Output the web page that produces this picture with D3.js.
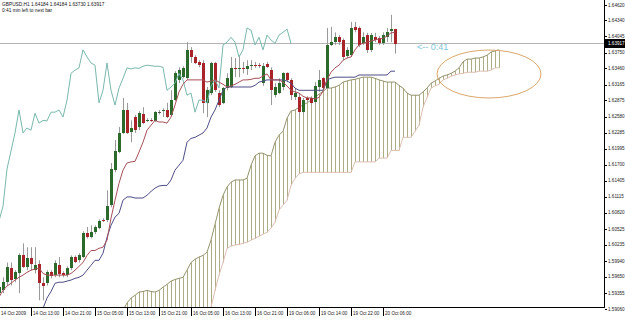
<!DOCTYPE html>
<html>
<head>
<meta charset="utf-8">
<script src="https://cdn.jsdelivr.net/npm/d3@7"></script>
<style>
  html, body { margin: 0; padding: 0; background: #fff; }
  svg { display: block; }
  text { font-family: "Liberation Sans", Arial, sans-serif; }
</style>
</head>
<body>
<script>
// GBPUSD H1 candles, one entry per hourly bar (oldest first)
const opens = [
  1.5935, 1.5940, 1.5955, 1.5981, 1.5960, 1.5971, 1.6004, 1.5982, 1.5999, 1.5977,
  1.5988, 1.5953, 1.5953, 1.5973, 1.5968, 1.5986, 1.5971, 1.5968, 1.5981, 1.6002,
  1.5995, 1.6001, 1.6045, 1.6037, 1.6046, 1.6054, 1.6069, 1.6069, 1.6096, 1.6160,
  1.6193, 1.6228, 1.6270, 1.6229, 1.6257, 1.6239, 1.6262, 1.6250, 1.6251, 1.6250,
  1.6266, 1.6268, 1.6270, 1.6261, 1.6288, 1.6325, 1.6330, 1.6328, 1.6380, 1.6367,
  1.6358, 1.6356, 1.6283, 1.6301, 1.6356, 1.6301, 1.6283, 1.6310, 1.6312, 1.6347,
  1.6345, 1.6347, 1.6345, 1.6350, 1.6352, 1.6352, 1.6319, 1.6354, 1.6343, 1.6297,
  1.6301, 1.6312, 1.6337, 1.6325, 1.6293, 1.6293, 1.6266, 1.6292, 1.6292, 1.6284,
  1.6312, 1.6328, 1.6310, 1.6389, 1.6394, 1.6403, 1.6398, 1.6369, 1.6370, 1.6422,
  1.6420, 1.6392, 1.6407, 1.6380, 1.6403, 1.6401, 1.6392, 1.6403, 1.6414, 1.64184
];
const highs = [
  1.5949, 1.5964, 1.5991, 1.5991, 1.5977, 1.6008, 1.6026, 1.6019, 1.6019, 1.6019,
  1.5995, 1.5964, 1.5977, 1.5977, 1.5995, 1.6001, 1.5975, 1.5984, 1.6004, 1.6004,
  1.6008, 1.6048, 1.6056, 1.6059, 1.6059, 1.6070, 1.6072, 1.6123, 1.6173, 1.6215,
  1.6239, 1.6292, 1.6283, 1.6251, 1.6261, 1.6268, 1.6275, 1.6255, 1.6255, 1.6268,
  1.6270, 1.6273, 1.6283, 1.6306, 1.6341, 1.6348, 1.6350, 1.6394, 1.6385, 1.6370,
  1.6361, 1.6361, 1.6312, 1.6358, 1.6358, 1.6306, 1.6312, 1.6337, 1.6367, 1.6365,
  1.6370, 1.6358, 1.6361, 1.6361, 1.6358, 1.6356, 1.6356, 1.6358, 1.6348, 1.6319,
  1.6328, 1.6339, 1.6339, 1.6328, 1.6310, 1.6301, 1.6292, 1.6295, 1.6295, 1.6321,
  1.6343, 1.6330, 1.6420, 1.6422, 1.6412, 1.6407, 1.6401, 1.6385, 1.6431, 1.6431,
  1.6423, 1.6412, 1.6411, 1.6411, 1.6411, 1.6405, 1.6412, 1.6420, 1.6444, 1.64184
];
const lows = [
  1.5929, 1.5935, 1.5949, 1.5949, 1.5955, 1.5935, 1.5981, 1.5977, 1.5977, 1.5971,
  1.5922, 1.5922, 1.5949, 1.5962, 1.5964, 1.5964, 1.5964, 1.5964, 1.5977, 1.5990,
  1.5991, 1.5999, 1.6035, 1.6035, 1.6043, 1.6052, 1.6065, 1.6065, 1.6092, 1.6156,
  1.6191, 1.6226, 1.6226, 1.6211, 1.6228, 1.6233, 1.6244, 1.6248, 1.6248, 1.6248,
  1.6262, 1.6257, 1.6255, 1.6259, 1.6286, 1.6319, 1.6328, 1.6325, 1.6356, 1.6354,
  1.6348, 1.6264, 1.6257, 1.6297, 1.6303, 1.6275, 1.6281, 1.6306, 1.6310, 1.6330,
  1.6330, 1.6337, 1.6334, 1.6343, 1.6347, 1.6347, 1.6314, 1.6347, 1.6279, 1.6293,
  1.6299, 1.6306, 1.6321, 1.6288, 1.6288, 1.6255, 1.6261, 1.6283, 1.6279, 1.6281,
  1.6303, 1.6306, 1.6308, 1.6387, 1.6389, 1.6389, 1.6361, 1.6365, 1.6367, 1.6412,
  1.6385, 1.6389, 1.6374, 1.6376, 1.6394, 1.6389, 1.6389, 1.6394, 1.6394, 1.63730
];
const closes = [
  1.5946, 1.5955, 1.5982, 1.5959, 1.5973, 1.6004, 1.5982, 1.5999, 1.5988, 1.5986,
  1.5953, 1.5948, 1.5973, 1.5966, 1.5990, 1.5970, 1.5968, 1.5981, 1.6002, 1.5993,
  1.6004, 1.6045, 1.6037, 1.6046, 1.6056, 1.6067, 1.6067, 1.6094, 1.6162, 1.6195,
  1.6228, 1.6270, 1.6228, 1.6237, 1.6233, 1.6264, 1.6246, 1.6251, 1.6250, 1.6266,
  1.6266, 1.6270, 1.6257, 1.6288, 1.6337, 1.6343, 1.6347, 1.6380, 1.6367, 1.6356,
  1.6352, 1.6283, 1.6306, 1.6356, 1.6306, 1.6279, 1.6310, 1.6328, 1.6347, 1.6345,
  1.6347, 1.6346, 1.6350, 1.6352, 1.6351, 1.6350, 1.6350, 1.6348, 1.6306, 1.6312,
  1.6319, 1.6337, 1.6325, 1.6297, 1.6301, 1.6266, 1.6288, 1.6288, 1.6283, 1.6314,
  1.6325, 1.6310, 1.6389, 1.6394, 1.6403, 1.6394, 1.6367, 1.6380, 1.6420, 1.6416,
  1.6389, 1.6403, 1.6380, 1.6407, 1.6398, 1.6392, 1.6407, 1.6412, 1.6418, 1.63917
];

// Ichimoku lines
const tenkan = [
  1.5928, 1.5940, 1.5948, 1.5953, 1.5959, 1.5964, 1.5968, 1.5973, 1.5977, 1.5979,
  1.5981, 1.5971, 1.5968, 1.5968, 1.5968, 1.5968, 1.5968, 1.5968, 1.5971, 1.5977,
  1.5984, 1.5991, 1.6004, 1.6013, 1.6013, 1.6017, 1.6019, 1.6032, 1.6072, 1.6105,
  1.6136, 1.6160, 1.6173, 1.6175, 1.6176, 1.6193, 1.6211, 1.6233, 1.6242, 1.6251,
  1.6248, 1.6248, 1.6246, 1.6257, 1.6279, 1.6303, 1.6317, 1.6325, 1.6325, 1.6325,
  1.6325, 1.6325, 1.6321, 1.6323, 1.6325, 1.6321, 1.6317, 1.6312, 1.6314, 1.6317,
  1.6321, 1.6325, 1.6325, 1.6326, 1.6328, 1.6328, 1.6332, 1.6336, 1.6325, 1.6325,
  1.6325, 1.6321, 1.6314, 1.6306, 1.6303, 1.6301, 1.6295, 1.6292, 1.6292, 1.6290,
  1.6293, 1.6304, 1.6325, 1.6339, 1.6347, 1.6352, 1.6361, 1.6365, 1.6367, 1.6380,
  1.6389, 1.6392, 1.6394, 1.6396, 1.6398, 1.6400, 1.6401, 1.6405, 1.6411, 1.6412
];
const kijun = [
  1.5867, 1.5871, 1.5875, 1.5878, 1.5882, 1.5886, 1.5889, 1.5893, 1.5896, 1.5900,
  1.5904, 1.5907, 1.5926, 1.5938, 1.5953, 1.5955, 1.5955, 1.5957, 1.5959, 1.5962,
  1.5964, 1.5968, 1.5977, 1.5986, 1.5995, 1.5995, 1.6008, 1.6037, 1.6059, 1.6074,
  1.6081, 1.6105, 1.6111, 1.6111, 1.6109, 1.6109, 1.6109, 1.6114, 1.6121, 1.6127,
  1.6131, 1.6132, 1.6132, 1.6142, 1.6160, 1.6169, 1.6178, 1.6211, 1.6218, 1.6220,
  1.6224, 1.6228, 1.6237, 1.6257, 1.6270, 1.6288, 1.6306, 1.6312, 1.6312, 1.6312,
  1.6312, 1.6312, 1.6312, 1.6312, 1.6315, 1.6321, 1.6323, 1.6325, 1.6325, 1.6325,
  1.6325, 1.6325, 1.6323, 1.6319, 1.6310, 1.6306, 1.6306, 1.6306, 1.6306, 1.6306,
  1.6306, 1.6306, 1.6325, 1.6328, 1.6330, 1.6330, 1.6330, 1.6330, 1.6330, 1.6330,
  1.6334, 1.6334, 1.6334, 1.6334, 1.6334, 1.6334, 1.6334, 1.6334, 1.6341, 1.6341
];

// cloud, starting at bar 31 and running 26 bars past the last candle
const cloudStart = 31;
const spanA = [
  1.5904, 1.5917, 1.5926, 1.5931, 1.5937, 1.5938, 1.5940, 1.5938, 1.5937, 1.5940,
  1.5946, 1.5951, 1.5957, 1.5960, 1.5962, 1.5964, 1.5977, 1.5991, 1.5997, 1.6001,
  1.6004, 1.6010, 1.6032, 1.6061, 1.6090, 1.6114, 1.6129, 1.6138, 1.6142, 1.6142,
  1.6142, 1.6145, 1.6169, 1.6186, 1.6191, 1.6191, 1.6187, 1.6186, 1.6211, 1.6224,
  1.6231, 1.6255, 1.6268, 1.6270, 1.6275, 1.6279, 1.6283, 1.6288, 1.6293, 1.6299,
  1.6304, 1.6310, 1.6310, 1.6312, 1.6315, 1.6321, 1.6323, 1.6325, 1.6326, 1.6328,
  1.6330, 1.6330, 1.6330, 1.6328, 1.6325, 1.6323, 1.6321, 1.6321, 1.6321, 1.6315,
  1.6310, 1.6301, 1.6297, 1.6297, 1.6297, 1.6303, 1.6310, 1.6319, 1.6323, 1.6328,
  1.6332, 1.6334, 1.6337, 1.6341, 1.6347, 1.6358, 1.6363, 1.6363, 1.6365, 1.6365,
  1.6367, 1.6370, 1.6376, 1.6378, 1.6380
];
const spanB = [
  1.5858, 1.5858, 1.5858, 1.5858, 1.5858, 1.5858, 1.5858, 1.5858, 1.5858, 1.5858,
  1.5858, 1.5858, 1.5858, 1.5858, 1.5858, 1.5858, 1.5858, 1.5858, 1.5858, 1.5867,
  1.5876, 1.5889, 1.5909, 1.5940, 1.5968, 1.5991, 1.6017, 1.6021, 1.6023, 1.6024,
  1.6026, 1.6028, 1.6032, 1.6035, 1.6039, 1.6043, 1.6046, 1.6054, 1.6065, 1.6087,
  1.6096, 1.6105, 1.6132, 1.6145, 1.6153, 1.6156, 1.6156, 1.6156, 1.6156, 1.6156,
  1.6156, 1.6156, 1.6156, 1.6156, 1.6156, 1.6156, 1.6156, 1.6156, 1.6175, 1.6175,
  1.6175, 1.6175, 1.6175, 1.6175, 1.6182, 1.6182, 1.6182, 1.6196, 1.6196, 1.6196,
  1.6220, 1.6220, 1.6220, 1.6231, 1.6242, 1.6275, 1.6293, 1.6310, 1.6314, 1.6317,
  1.6325, 1.6328, 1.6332, 1.6334, 1.6336, 1.6337, 1.6339, 1.6339, 1.6339, 1.6341,
  1.6341, 1.6341, 1.6343, 1.6347, 1.6347
];

// axis labels
const priceTicks = [1.64620, 1.64340, 1.64045, 1.63750, 1.63460, 1.63165, 1.62875, 1.62580,
  1.62285, 1.61995, 1.61700, 1.61405, 1.61115, 1.60820, 1.60525, 1.60235, 1.59940,
  1.59650, 1.59355, 1.59060];
const timeLabels = ["14 Oct 2009", "14 Oct 13:00", "14 Oct 21:00", "15 Oct 05:00",
  "15 Oct 13:00", "15 Oct 21:00", "16 Oct 05:00", "16 Oct 13:00", "16 Oct 21:00",
  "19 Oct 06:00", "19 Oct 14:00", "19 Oct 22:00", "20 Oct 06:00"];
const barsPerLabel = 8;
const chikouShift = 26;
const bid = 1.63917;

const W = 625, H = 318;
const plotRight = 604, plotBottom = 307;

const svg = d3.select("body").append("svg")
    .attr("width", W)
    .attr("height", H);

svg.append("defs").append("clipPath")
    .attr("id", "plot")
  .append("rect")
    .attr("x", 0).attr("y", 0)
    .attr("width", plotRight).attr("height", plotBottom);

// 4px per bar
const x = d3.scaleLinear().domain([0, 150]).range([-1, 599]);
const y = d3.scaleLinear().domain([1.59060, 1.64620]).range([309, 5]);
const px = v => Math.round(x(v)) + 0.5;

const plot = svg.append("g").attr("clip-path", "url(#plot)");

// cloud hatching
const cloud = spanA.map((a, i) => ({ i: cloudStart + i, a, b: spanB[i] }));
plot.append("g")
  .selectAll("line")
  .data(cloud)
  .join("line")
    .attr("x1", d => px(d.i)).attr("x2", d => px(d.i))
    .attr("y1", d => y(d.a)).attr("y2", d => y(d.b))
    .attr("stroke", "#aeac84")
    .attr("stroke-width", 1);

const line = d3.line().x(d => x(d.i)).y(d => y(d.v));

plot.append("path")
    .attr("d", line(cloud.map(d => ({ i: d.i, v: d.a }))))
    .attr("fill", "none").attr("stroke", "#94936c").attr("stroke-width", 1);
plot.append("path")
    .attr("d", line(cloud.map(d => ({ i: d.i, v: d.b }))))
    .attr("fill", "none").attr("stroke", "#dcbfb0").attr("stroke-width", 1);

// bid line
plot.append("line")
    .attr("x1", 0).attr("x2", plotRight)
    .attr("y1", Math.round(y(bid)) + 0.5).attr("y2", Math.round(y(bid)) + 0.5)
    .attr("stroke", "#b4b4b4");

// candles
const bars = closes.map((c, i) => ({ i, o: opens[i], h: highs[i], l: lows[i], c }));

const candles = plot.append("g").selectAll("g")
  .data(bars)
  .join("g");

candles.append("line")
    .attr("x1", d => px(d.i)).attr("x2", d => px(d.i))
    .attr("y1", d => y(d.h)).attr("y2", d => y(d.l))
    .attr("stroke", "#9a9a9a");

candles.append("rect")
    .attr("x", d => Math.round(x(d.i)) - 1)
    .attr("width", 3)
    .attr("y", d => Math.round(y(Math.max(d.o, d.c))))
    .attr("height", d => Math.max(1, Math.round(Math.abs(y(d.o) - y(d.c)))))
    .attr("fill", d => d.c > d.o ? "#2c6a2c" : d.c < d.o ? "#a82428" : "#555");

// lines
const tenkanPts = tenkan.map((v, i) => ({ i, v }));
const kijunPts = kijun.map((v, i) => ({ i, v }));
const chikouPts = closes.slice(chikouShift).map((v, i) => ({ i, v }));

plot.append("path")
    .attr("d", line(chikouPts))
    .attr("fill", "none").attr("stroke", "#78b8ae").attr("stroke-width", 1);
plot.append("path")
    .attr("d", line(kijunPts))
    .attr("fill", "none").attr("stroke", "#4e4e88").attr("stroke-width", 1);
plot.append("path")
    .attr("d", line(tenkanPts))
    .attr("fill", "none").attr("stroke", "#a65058").attr("stroke-width", 1);

// timer text and ellipse
svg.append("text")
    .attr("x", 417).attr("y", 50)
    .attr("font-size", 9)
    .attr("fill", "#7cc4d6")
    .text("<-- 0:41");

svg.append("ellipse")
    .attr("cx", x(122.5)).attr("cy", 74)
    .attr("rx", 52).attr("ry", 24)
    .attr("fill", "none")
    .attr("stroke", "#daa86c")
    .attr("stroke-width", 1);

// frame
svg.append("line")
    .attr("x1", plotRight + 0.5).attr("x2", plotRight + 0.5)
    .attr("y1", 0).attr("y2", plotBottom + 1)
    .attr("stroke", "#000");
svg.append("line")
    .attr("x1", 0).attr("x2", plotRight + 1)
    .attr("y1", plotBottom + 0.5).attr("y2", plotBottom + 0.5)
    .attr("stroke", "#000");

// price axis
const yAxis = svg.append("g");
yAxis.selectAll("line")
  .data(priceTicks)
  .join("line")
    .attr("x1", plotRight + 1).attr("x2", plotRight + 3)
    .attr("y1", d => Math.round(y(d)) + 0.5).attr("y2", d => Math.round(y(d)) + 0.5)
    .attr("stroke", "#000");
yAxis.selectAll("text")
  .data(priceTicks)
  .join("text")
    .attr("x", plotRight + 4)
    .attr("y", d => y(d) + 1.7)
    .attr("font-size", 4.6)
    .attr("fill", "#222")
    .text(d => d.toFixed(5));

// current price box
const by = Math.round(y(bid));
svg.append("rect")
    .attr("x", plotRight + 1).attr("y", by - 4)
    .attr("width", W - plotRight - 1).attr("height", 9)
    .attr("fill", "#000");
svg.append("text")
    .attr("x", plotRight + 4).attr("y", by + 2)
    .attr("font-size", 4.6)
    .attr("fill", "#fff")
    .text(bid.toFixed(5));

// time axis
const xAxis = svg.append("g");
xAxis.selectAll("line")
  .data(timeLabels)
  .join("line")
    .attr("x1", (d, j) => px(j * barsPerLabel)).attr("x2", (d, j) => px(j * barsPerLabel))
    .attr("y1", plotBottom + 1).attr("y2", plotBottom + 9)
    .attr("stroke", "#000");
xAxis.selectAll("text")
  .data(timeLabels)
  .join("text")
    .attr("x", (d, j) => Math.max(1, x(j * barsPerLabel) + 2))
    .attr("y", plotBottom + 8)
    .attr("font-size", 4.6)
    .attr("fill", "#222")
    .text(d => d);

// header
svg.append("text")
    .attr("x", 2).attr("y", 6)
    .attr("font-size", 4.8)
    .attr("fill", "#111")
    .text("GBPUSD,H1  1.64184 1.64184 1.63730 1.63917");
svg.append("text")
    .attr("x", 2).attr("y", 12)
    .attr("font-size", 4.8)
    .attr("fill", "#111")
    .text("0:41 min left to next bar");
</script>
</body>
</html>
